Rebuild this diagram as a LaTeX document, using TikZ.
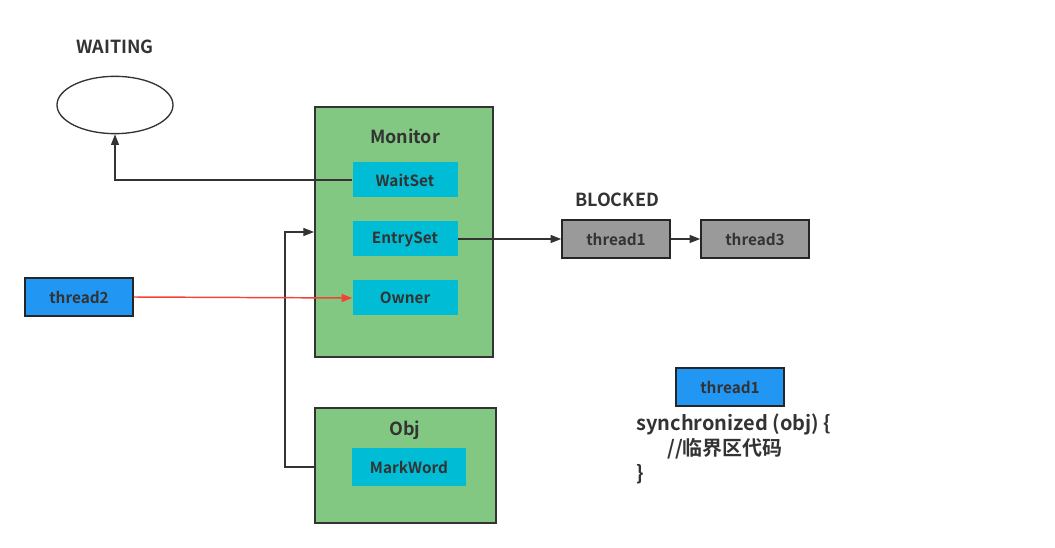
\documentclass[tikz,border=0pt]{standalone}
\usepackage{fontspec}
\setmainfont{Noto Sans CJK SC}[BoldFont={* Bold}]
\usetikzlibrary{arrows.meta, shapes.geometric}
\definecolor{txt-gray}{HTML}{333333}
\definecolor{obj-green}{HTML}{82C883}
\definecolor{set-cyan}{HTML}{00BCD4}
\definecolor{thr-blue}{HTML}{2196F3}
\definecolor{thr-gray}{HTML}{9A9A9A}
\definecolor{link-red}{HTML}{F44336}

\begin{document}
\begin{tikzpicture}[x=0.75pt, y=-0.75pt,
      every node/.style={font=\bfseries\fontsize{11.5}{13}\selectfont, text=txt-gray},
      title/.style={font=\bfseries\fontsize{13.5}{16}\selectfont},
      bigbox/.style={draw=txt-gray, fill=obj-green, line width=1.2pt, anchor=north west},
      setbox/.style={fill=set-cyan, minimum width=78.75pt, minimum height=26.25pt},
      thrbox/.style={draw=black!85, line width=1.2pt, minimum width=81pt, minimum height=28.5pt},
      link/.style={draw=txt-gray, line width=0.9pt, -{Triangle[length=8pt, width=6pt]}}]
    \useasboundingbox (0,0) rectangle (1055,548);
    % waiting side
    \node[title] (WAITLBL) at (115,47) {WAITING};
    \node[draw=txt-gray, ellipse, line width=1pt, minimum width=87pt,
          minimum height=43pt] (WAIT) at (115,105) {};
    % monitor
    \node[bigbox, minimum width=133.5pt, minimum height=187.5pt] (MON) at (314,106) {};
    \node[title] (MONLBL) at (405,136) {Monitor};
    \node[setbox] (WS) at (405,180) {WaitSet};
    \node[setbox] (ES) at (405,239) {EntrySet};
    \node[setbox] (OWN) at (405,298) {Owner};
    % object
    \node[bigbox, minimum width=135.75pt, minimum height=86.25pt] (OBJ) at (314,407) {};
    \node[title] (OBJLBL) at (405,430) {Obj};
    \node[fill=set-cyan, minimum width=85.5pt, minimum height=28.5pt] (MW) at (409,467) {MarkWord};
    % threads
    \node[thrbox, fill=thr-blue] (T2) at (79,297) {thread2};
    \node[title] (BLKLBL) at (617,200) {BLOCKED};
    \node[thrbox, fill=thr-gray] (T1) at (616,239) {thread1};
    \node[thrbox, fill=thr-gray] (T3) at (755,239) {thread3};
    \node[thrbox, fill=thr-blue] (T1B) at (730,387) {thread1};
    % code
    \node[anchor=north west, align=left, inner sep=0pt,
          font=\bfseries\fontsize{15}{18.75}\selectfont] (CODE) at (636,414)
          {synchronized (obj) \{\\\hspace*{1.55em}//临界区代码\\\}};
    % connectors
    \draw[link] (WS.west) -| (WAIT.south);
    \draw[link] (OBJ.west |- MW) -- ++(-29,0) |- (MON.west |- 0,232);
    \draw[link] (ES.east) -- (T1.west);
    \draw[link] (T1.east) -- (T3.west);
    \draw[link, draw=link-red, fill=link-red, line width=1.1pt] (T2.east) -- (OWN.west);
  \end{tikzpicture}
\end{document}
